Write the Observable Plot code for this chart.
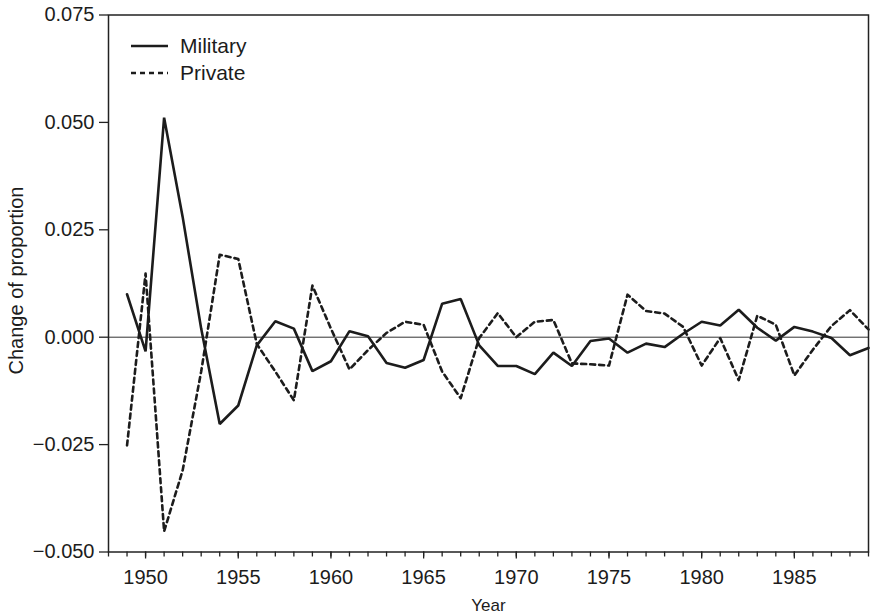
<!DOCTYPE html>
<html><head><meta charset="utf-8">
<script src="https://cdn.jsdelivr.net/npm/d3@7"></script>
<script src="https://cdn.jsdelivr.net/npm/@observablehq/plot@0.6"></script>
<style>body{margin:0;background:#fff} #chart svg{display:block}</style>
</head><body><div id="chart"></div>
<script>
const years = [1949,1950,1951,1952,1953,1954,1955,1956,1957,1958,1959,1960,1961,1962,1963,1964,1965,1966,1967,1968,1969,1970,1971,1972,1973,1974,1975,1976,1977,1978,1979,1980,1981,1982,1983,1984,1985,1986,1987,1988,1989];
const military = [0.010,-0.0033,0.0511,0.028,0.002,-0.0202,-0.0159,-0.0019,0.0037,0.0020,-0.0079,-0.0056,0.0014,0.0002,-0.006,-0.0071,-0.0053,0.0078,0.0089,-0.0019,-0.0067,-0.0067,-0.0086,-0.0036,-0.0067,-0.0009,-0.0003,-0.0036,-0.0015,-0.0023,0.0008,0.0036,0.0027,0.0064,0.0022,-0.0008,0.0024,0.0013,-0.0002,-0.0042,-0.0025];
const privateSeries = [-0.0252,0.0148,-0.0452,-0.031,-0.008,0.0192,0.0182,-0.0016,-0.008,-0.0147,0.012,0.002,-0.0075,-0.003,0.001,0.0036,0.0029,-0.008,-0.0142,-0.0002,0.0056,0.0,0.0036,0.0040,-0.0061,-0.0063,-0.0066,0.0099,0.0061,0.0055,0.0024,-0.0066,-0.0002,-0.0100,0.0050,0.0029,-0.0089,-0.0029,0.0026,0.0063,0.0018];
const seriesNames = ["Military","Private"];
const xMinorTicks = [1948,1949,1950,1951,1952,1953,1954,1955,1956,1957,1958,1959,1960,1961,1962,1963,1964,1965,1966,1967,1968,1969,1970,1971,1972,1973,1974,1975,1976,1977,1978,1979,1980,1981,1982,1983,1984,1985,1986,1987,1988,1989];
const xMajorTicks = [1950,1955,1960,1965,1970,1975,1980,1985];
const yTicks = [-0.050,-0.025,0.000,0.025,0.050,0.075];
const xTitle = "Year";
const yTitle = "Change of proportion";

const rows = years.flatMap((yr, i) => [
  {year: yr, value: military[i], series: seriesNames[0]},
  {year: yr, value: privateSeries[i], series: seriesNames[1]}
]);
const font = "'Liberation Sans', Arial, Helvetica, sans-serif";
const ink = "#1c1c1c";

const chart = Plot.plot({
  width: 873, height: 614,
  marginLeft: 108, marginRight: 5, marginTop: 14.5, marginBottom: 62.5,
  style: {fontFamily: font, fontSize: "20px", color: ink, background: "#fff"},
  x: {domain: [1948, 1989], label: null},
  y: {domain: [-0.05, 0.075], label: null},
  marks: [
    Plot.ruleY([0], {stroke: "#333", strokeWidth: 1}),
    Plot.line(rows.filter(d => d.series === seriesNames[0]), {x: "year", y: "value", stroke: ink, strokeWidth: 2.6, strokeLinejoin: "miter"}),
    Plot.line(rows.filter(d => d.series === seriesNames[1]), {x: "year", y: "value", stroke: ink, strokeWidth: 2.6, strokeDasharray: "5,4"}),
    Plot.axisX(xMinorTicks, {tickSize: 5, text: null, label: null, stroke: "#222", strokeWidth: 1.3}),
    Plot.axisX(xMajorTicks, {tickSize: 7, tickPadding: 11, tickFormat: d => String(d), label: null, stroke: "#222", strokeWidth: 1.3, fontSize: 20}),
    Plot.axisY(yTicks, {tickSize: 9, tickPadding: 5, tickFormat: ".3f", label: null, stroke: "#222", strokeWidth: 1.3, fontSize: 20}),
    Plot.text([xTitle], {frameAnchor: "bottom", dy: 54, fontSize: 17, lineAnchor: "middle", textAnchor: "middle", fill: ink}),
    Plot.text([yTitle], {frameAnchor: "left", dx: -92, dy: -3, rotate: -90, fontSize: 20, lineAnchor: "middle", textAnchor: "middle", fill: ink}),
    Plot.frame({stroke: "#222", strokeWidth: 1.5})
  ]
});
document.getElementById("chart").appendChild(chart);

// legend (top-left inside the frame)
const svg = d3.select(chart);
const lg = svg.append("g").attr("font-family", font).attr("font-size", 21).attr("fill", ink).attr("text-anchor", "start");
const legendItems = [
  {name: seriesNames[0], dash: null, y: 46},
  {name: seriesNames[1], dash: "5,4", y: 73}
];
legendItems.forEach(it => {
  lg.append("line").attr("x1", 131).attr("x2", 168).attr("y1", it.y).attr("y2", it.y)
    .attr("stroke", ink).attr("stroke-width", 2.6).attr("stroke-dasharray", it.dash);
  lg.append("text").attr("x", 180).attr("y", it.y).attr("dy", "0.35em").attr("text-anchor", "start").text(it.name);
});
</script>
</body></html>
